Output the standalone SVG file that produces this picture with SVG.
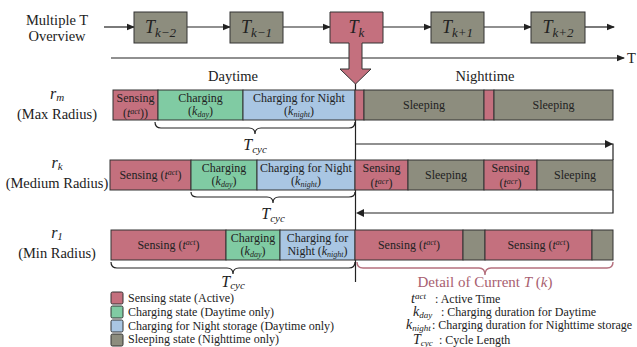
<svg xmlns="http://www.w3.org/2000/svg" width="637" height="347" viewBox="0 0 637 347" font-family="'Liberation Serif','DejaVu Serif',serif">
<defs>
<style>
text{font-family:"Liberation Serif","DejaVu Serif","Times New Roman",serif;fill:#222}
.c{text-anchor:middle}
.b{font-size:12px}
.big{font-size:14.5px}
.lg{font-size:12px}
.i{font-style:italic}
.pk{fill:#c4707e;stroke:#333;stroke-width:1}
.gr{fill:#80cba3;stroke:#333;stroke-width:1}
.bl{fill:#a9c6e3;stroke:#333;stroke-width:1}
.gy{fill:#8d8d7e;stroke:#333;stroke-width:1}
.ln{fill:none;stroke:#222;stroke-width:1.2}
.br{fill:none;stroke:#222;stroke-width:1.2}
.brp{fill:none;stroke:#b5707e;stroke-width:1.4}
</style>
<marker id="ah" markerWidth="8" markerHeight="8" refX="7" refY="4" orient="auto" markerUnits="userSpaceOnUse">
<path d="M0,0.8 L8,4 L0,7.2 Z" fill="#222"/>
</marker>
</defs>
<rect width="637" height="347" fill="#fff"/>

<!-- connectors -->
<g id="connectors">
<line class="ln" x1="104" y1="27" x2="134" y2="27" marker-end="url(#ah)"/>
<line class="ln" x1="187" y1="27" x2="230" y2="27" marker-end="url(#ah)"/>
<line class="ln" x1="283" y1="27" x2="330" y2="27" marker-end="url(#ah)"/>
<line class="ln" x1="383" y1="27" x2="431" y2="27" marker-end="url(#ah)"/>
<line class="ln" x1="484" y1="27" x2="531" y2="27" marker-end="url(#ah)"/>
<line class="ln" x1="585" y1="27" x2="614" y2="27" marker-end="url(#ah)"/>
<line class="ln" x1="111" y1="58" x2="624" y2="58" marker-end="url(#ah)"/>
<line class="ln" x1="355.5" y1="83" x2="355.5" y2="282"/>
<path class="ln" d="M356,144 H613 V160"/>
<path d="M605,140 L613,144 L605,148 Z" fill="#222"/>
<path class="ln" d="M613,190 V213 H358"/>
<path d="M364,209 L356,213 L364,217 Z" fill="#222"/>
</g>

<!-- top row -->
<g id="overview-label">
<text class="c big" x="57" y="25">Multiple T</text>
<text class="c big" x="57" y="41">Overview</text>
</g>
<g id="Tk-2">
<rect class="gy" x="134" y="12" width="53" height="31"/>
<text class="c i" x="160.5" y="33" font-size="18">T<tspan font-size="13" dy="4">k−2</tspan></text>
</g>
<g id="Tk-1">
<rect class="gy" x="230" y="12" width="53" height="31"/>
<text class="c i" x="256.5" y="33" font-size="18">T<tspan font-size="13" dy="4">k−1</tspan></text>
</g>
<g id="Tk">
<path class="pk" d="M330,12 H383 V43 H362 V69 H371 L355.5,84 L340,69 H349 V43 H330 Z"/>
<text class="c i" x="356.5" y="33" font-size="18">T<tspan font-size="13" dy="4">k</tspan></text>
</g>
<g id="Tk+1">
<rect class="gy" x="431" y="12" width="53" height="31"/>
<text class="c i" x="457.5" y="33" font-size="18">T<tspan font-size="13" dy="4">k+1</tspan></text>
</g>
<g id="Tk+2">
<rect class="gy" x="531" y="12" width="54" height="31"/>
<text class="c i" x="558" y="33" font-size="18">T<tspan font-size="13" dy="4">k+2</tspan></text>
</g>
<text class="big" x="627" y="63">T</text>
<text class="c big" x="233" y="81">Daytime</text>
<text class="c big" x="485" y="81">Nighttime</text>

<!-- r_m row -->
<g id="row-rm">
<text class="c i" x="57" y="99" font-size="16">r<tspan font-size="11" dy="2">m</tspan></text>
<text class="c big" x="57" y="119">(Max Radius)</text>
<rect class="pk" x="113" y="90" width="45" height="30"/>
<text class="c b" x="135.5" y="102">Sensing</text>
<text class="c b" x="135.5" y="117">(<tspan class="i">t</tspan><tspan font-size="8" dy="-3" class="i">act</tspan><tspan dy="3">))</tspan></text>
<rect class="gr" x="158" y="90" width="85" height="30"/>
<text class="c b" x="200.5" y="102">Charging</text>
<text class="c b" x="200.5" y="115">(<tspan class="i">k</tspan><tspan font-size="8" dy="2" class="i">day</tspan><tspan dy="-2">)</tspan></text>
<rect class="bl" x="243" y="90" width="112" height="30"/>
<text class="c b" x="299" y="102">Charging for Night</text>
<text class="c b" x="299" y="115">(<tspan class="i">k</tspan><tspan font-size="8" dy="2" class="i">night</tspan><tspan dy="-2">)</tspan></text>
<rect class="pk" x="355" y="90" width="9" height="30"/>
<rect class="gy" x="364" y="90" width="120" height="30"/>
<text class="c b" x="424" y="109">Sleeping</text>
<rect class="pk" x="484" y="90" width="10" height="30"/>
<rect class="gy" x="494" y="90" width="119" height="30"/>
<text class="c b" x="553.5" y="109">Sleeping</text>
<path class="br" d="M155,122 Q155,128 161,128 L249,128 Q255,128 255,134 Q255,128 261,128 L349,128 Q355,128 355,122"/>
<text class="c i" x="255" y="150" font-size="16">T<tspan font-size="11" dy="3">cyc</tspan></text>
</g>

<!-- r_k row -->
<g id="row-rk">
<text class="c i" x="57" y="168" font-size="16">r<tspan font-size="11" dy="2">k</tspan></text>
<text class="c big" x="57" y="188">(Medium Radius)</text>
<rect class="pk" x="110" y="160" width="81" height="30"/>
<text class="c b" x="150.5" y="179">Sensing (<tspan class="i">t</tspan><tspan font-size="8" dy="-4" class="i">act</tspan><tspan dy="4">)</tspan></text>
<rect class="gr" x="191" y="160" width="66" height="30"/>
<text class="c b" x="224" y="172">Charging</text>
<text class="c b" x="224" y="185">(<tspan class="i">k</tspan><tspan font-size="8" dy="2" class="i">day</tspan><tspan dy="-2">)</tspan></text>
<rect class="bl" x="257" y="160" width="98" height="30"/>
<text class="c b" x="306" y="172">Charging for Night</text>
<text class="c b" x="306" y="185">(<tspan class="i">k</tspan><tspan font-size="8" dy="2" class="i">night</tspan><tspan dy="-2">)</tspan></text>
<rect class="pk" x="355" y="160" width="53" height="30"/>
<text class="c b" x="381.5" y="172">Sensing</text>
<text class="c b" x="381.5" y="187">(<tspan class="i">t</tspan><tspan font-size="8" dy="-3" class="i">acr</tspan><tspan dy="3">)</tspan></text>
<rect class="gy" x="408" y="160" width="76" height="30"/>
<text class="c b" x="446" y="179">Sleeping</text>
<rect class="pk" x="484" y="160" width="53" height="30"/>
<text class="c b" x="510.5" y="172">Sensing</text>
<text class="c b" x="510.5" y="187">(<tspan class="i">t</tspan><tspan font-size="8" dy="-3" class="i">acr</tspan><tspan dy="3">)</tspan></text>
<rect class="gy" x="537" y="160" width="76" height="30"/>
<text class="c b" x="575" y="179">Sleeping</text>
<path class="br" d="M191,192 Q191,197 197,197 L267,197 Q273,197 273,203 Q273,197 279,197 L349,197 Q355,197 355,192"/>
<text class="c i" x="273" y="219" font-size="16">T<tspan font-size="11" dy="3">cyc</tspan></text>
</g>

<!-- r_1 row -->
<g id="row-r1">
<text class="c i" x="57" y="238" font-size="16">r<tspan font-size="11" dy="2">1</tspan></text>
<text class="c big" x="57" y="258">(Min Radius)</text>
<rect class="pk" x="111" y="230" width="115" height="30"/>
<text class="c b" x="168.5" y="249">Sensing (<tspan class="i">t</tspan><tspan font-size="8" dy="-4" class="i">act</tspan><tspan dy="4">)</tspan></text>
<rect class="gr" x="226" y="230" width="54" height="30"/>
<text class="c b" x="253" y="242">Charging</text>
<text class="c b" x="253" y="255">(<tspan class="i">k</tspan><tspan font-size="8" dy="2" class="i">day</tspan><tspan dy="-2">)</tspan></text>
<rect class="bl" x="280" y="230" width="75" height="30"/>
<text class="c b" x="317.5" y="242">Charging for</text>
<text class="c b" x="317.5" y="255">Night (<tspan class="i">k</tspan><tspan font-size="8" dy="2" class="i">night</tspan><tspan dy="-2">)</tspan></text>
<rect class="pk" x="355" y="230" width="108" height="30"/>
<text class="c b" x="409" y="249">Sensing (<tspan class="i">t</tspan><tspan font-size="8" dy="-4" class="i">act</tspan><tspan dy="4">)</tspan></text>
<rect class="gy" x="463" y="230" width="22" height="30"/>
<rect class="pk" x="485" y="230" width="107" height="30"/>
<text class="c b" x="538.5" y="249">Sensing (<tspan class="i">t</tspan><tspan font-size="8" dy="-4" class="i">act</tspan><tspan dy="4">)</tspan></text>
<rect class="gy" x="592" y="230" width="21" height="30"/>
<path class="br" d="M111,262 Q111,268 117,268 L227,268 Q233,268 233,274 Q233,268 239,268 L349,268 Q355,268 355,262"/>
<text class="c i" x="233" y="287" font-size="16">T<tspan font-size="11" dy="2">cyc</tspan></text>
<path class="brp" d="M357,262 Q357,268 363,268 L479,268 Q485,268 485,275 Q485,268 491,268 L607,268 Q613,268 613,262"/>
<text class="c" x="485" y="287" font-size="15" style="fill:#a86070">Detail of Current <tspan class="i">T</tspan> (<tspan class="i">k</tspan>)</text>
</g>

<!-- legend -->
<g id="legend">
<rect class="pk" x="111" y="292" width="12" height="12" rx="1.5"/>
<text class="lg" x="128" y="302">Sensing state (Active)</text>
<rect class="gr" x="111" y="306" width="12" height="12" rx="1.5"/>
<text class="lg" x="128" y="316">Charging state (Daytime only)</text>
<rect class="bl" x="111" y="320" width="12" height="12" rx="1.5"/>
<text class="lg" x="128" y="330">Charging for Night storage (Daytime only)</text>
<rect class="gy" x="111" y="334" width="12" height="12" rx="1.5"/>
<text class="lg" x="128" y="343">Sleeping state (Nighttime only)</text>
</g>
<g id="symbols">
<text class="lg" x="411" y="303"><tspan class="i" font-size="14">t</tspan><tspan class="i" font-size="9" dy="-4">act</tspan><tspan dy="4" x="435">: Active Time</tspan></text>
<text class="lg" x="413" y="316"><tspan class="i" font-size="14">k</tspan><tspan class="i" font-size="9" dy="2">day</tspan><tspan dy="-2" x="441">: Charging duration for Daytime</tspan></text>
<text class="lg" x="406" y="329"><tspan class="i" font-size="14">k</tspan><tspan class="i" font-size="9" dy="1.5">night</tspan><tspan dy="-1.5" x="432">: Charging duration for Nighttime storage</tspan></text>
<text class="lg" x="413" y="344"><tspan class="i" font-size="14">T</tspan><tspan class="i" font-size="9" dy="1.5">cyc</tspan><tspan dy="-1.5" x="439">: Cycle Length</tspan></text>
</g>
</svg>
